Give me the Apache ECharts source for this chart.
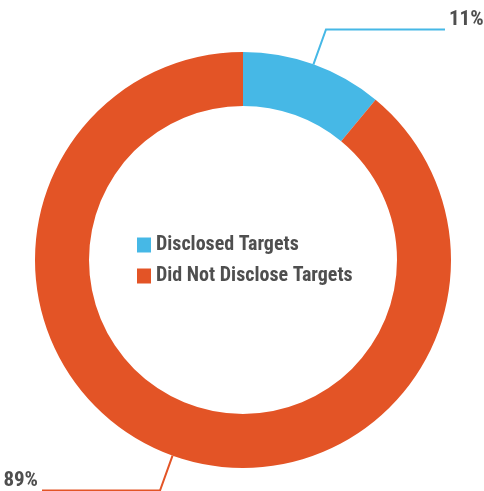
<!DOCTYPE html>
<html>
<head>
<meta charset="utf-8">
<script src="https://cdn.jsdelivr.net/npm/echarts@6/dist/echarts.min.js"></script>
<style>
  html, body { margin: 0; padding: 0; background: #fff; }
  #chart { width: 484px; height: 491px; }
</style>
</head>
<body>
<div id="chart"></div>
<script>
// Share of companies by target disclosure
const categories = ['Disclosed Targets', 'Did Not Disclose Targets'];
const shares = [11, 89];
const colors = ['#46B8E6', '#E35426'];

const FONT = "'Roboto Condensed', 'Liberation Sans Narrow', 'DejaVu Sans Condensed', 'Noto Sans', sans-serif";
const TEXT = '#4f4f4f';

// per-slice leader line lengths (radial, horizontal)
const leaderLines = [[37, 119], [37, 118]];

const chart = echarts.init(document.getElementById('chart'), null, { renderer: 'canvas' });

chart.setOption({
  animation: false,
  color: colors,
  legend: {
    orient: 'vertical',
    left: 137,
    top: 235,
    padding: 0,
    itemWidth: 14,
    itemHeight: 15,
    itemGap: 11,
    icon: 'rect',
    data: categories,
    textStyle: {
      fontFamily: FONT,
      fontWeight: 'bold',
      fontSize: 20,
      lineHeight: 20,
      color: TEXT
    }
  },
  series: [{
    type: 'pie',
    center: [243, 260],
    radius: [154, 208],
    startAngle: 90,
    clockwise: true,
    avoidLabelOverlap: false,
    label: {
      show: true,
      // trailing empty line lifts the value so it sits on its leader line
      formatter: '{c}%\n',
      fontFamily: FONT,
      fontWeight: 'bold',
      fontSize: 21,
      lineHeight: 20,
      color: TEXT,
      distanceToLabelLine: 4
    },
    labelLine: {
      show: true,
      lineStyle: { width: 2 }
    },
    emphasis: { disabled: true },
    data: categories.map((name, i) => ({
      name,
      value: shares[i],
      labelLine: { length: leaderLines[i][0], length2: leaderLines[i][1] }
    }))
  }]
});
</script>
</body>
</html>
